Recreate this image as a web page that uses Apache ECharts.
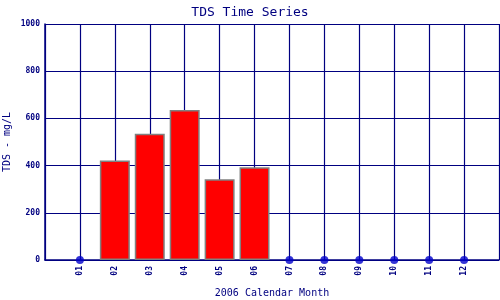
<!DOCTYPE html>
<html><head><meta charset="utf-8">
<script src="https://cdn.jsdelivr.net/npm/echarts@6/dist/echarts.min.js"></script>
<style>html,body{margin:0;padding:0;background:#fff}#c{width:500px;height:300px}</style>
</head><body><div id="c"></div>
<script>
var months = ['01','02','03','04','05','06','07','08','09','10','11','12'];
var tdsValues = [null, 422, 535, 636, 342, 393, null, null, null, null, null, null];
var yTicks = [0, 200, 400, 600, 800, 1000];

var navy = '#000080';
var font = 'DejaVu Sans Mono';
var barData = [], dotData = [];
months.forEach(function(m, i){
  if (tdsValues[i] === null) dotData.push([i + 1, 0]);
  else barData.push([i + 1, tdsValues[i]]);
});

var chart = echarts.init(document.getElementById('c'));
chart.setOption({
  animation: false,
  title: { text: 'TDS Time Series', left: 'center', top: 1,
    textStyle: { color: navy, fontFamily: font, fontSize: 13, fontWeight: 'normal' } },
  grid: { left: 45, right: 1, top: 24, bottom: 40, containLabel: false, outerBoundsMode: 'none' },
  xAxis: {
    type: 'value', min: 0, max: months.length + 1, interval: 1,
    name: '2006 Calendar Month', nameLocation: 'middle', nameGap: 28,
    nameTextStyle: { color: navy, fontFamily: font, fontSize: 10 },
    axisLine: { lineStyle: { color: navy, width: 1.5 } },
    axisTick: { show: false },
    splitLine: { show: true, lineStyle: { color: navy, width: 1.2 } },
    axisLabel: { rotate: 90, color: navy, fontFamily: font, fontSize: 8, fontWeight: 'bold', margin: 6,
      showMinLabel: false, showMaxLabel: false,
      formatter: function(v){ return (v >= 1 && v <= months.length) ? months[v - 1] : ''; } }
  },
  yAxis: {
    type: 'value', min: yTicks[0], max: yTicks[yTicks.length - 1], interval: yTicks[1] - yTicks[0],
    name: 'TDS - mg/L', nameLocation: 'middle', nameGap: 33, nameMoveOverlap: false,
    nameTextStyle: { color: navy, fontFamily: font, fontSize: 10 },
    axisLine: { show: true, lineStyle: { color: navy, width: 1.5 } },
    axisTick: { show: false },
    splitLine: { show: true, lineStyle: { color: navy, width: 1.2 } },
    axisLabel: { color: navy, fontFamily: font, fontSize: 8, fontWeight: 'bold', margin: 5,
      formatter: function(v){ return String(v); } }
  },
  series: [
    { type: 'bar', data: barData, barWidth: 30,
      itemStyle: { color: '#ff0000', borderColor: '#808080', borderWidth: 1.5 } },
    { type: 'scatter', data: dotData, symbolSize: 8, z: 5,
      itemStyle: { color: '#0000cc' } }
  ]
});
</script></body></html>
